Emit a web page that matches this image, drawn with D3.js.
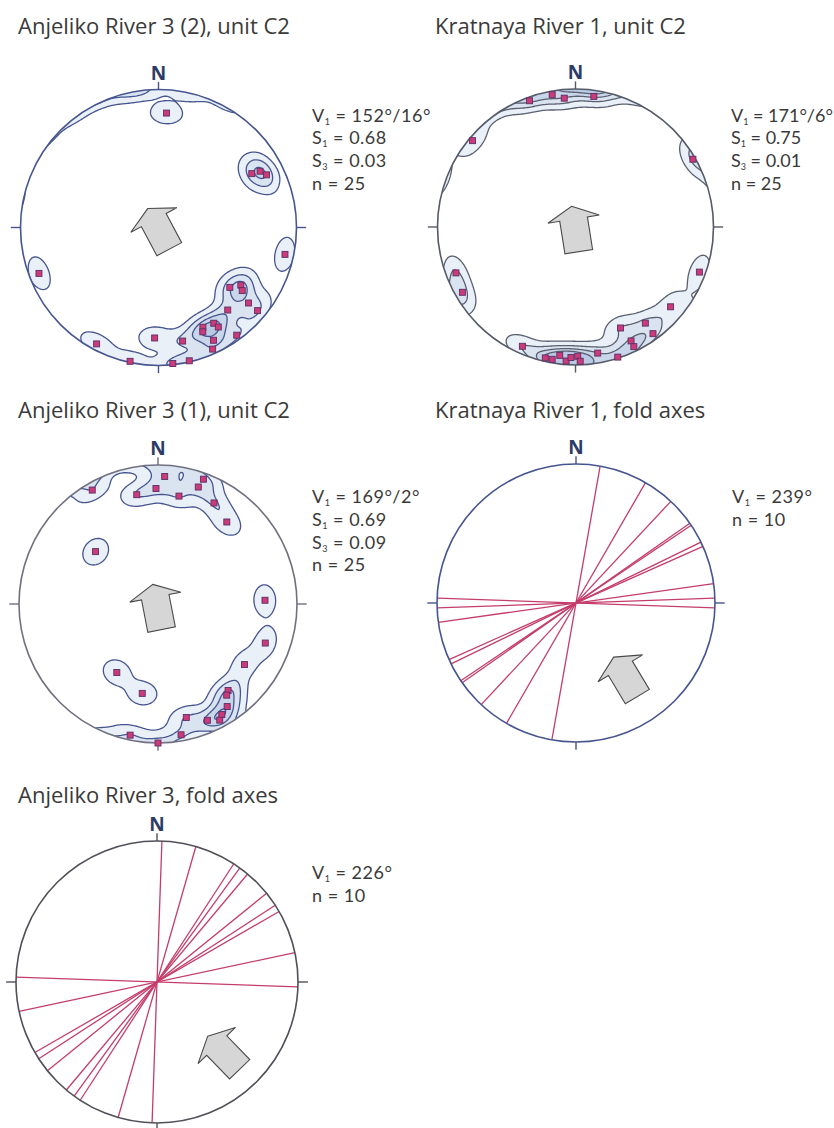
<!DOCTYPE html>
<html>
<head>
<meta charset="utf-8">
<script src="https://cdn.jsdelivr.net/npm/d3@7"></script>
<style>
  body { margin: 0; background: #fff; }
  svg { display: block; }
  text { font-family: "Open Sans", "Noto Sans", sans-serif; fill: #3a3a3a; }
  text.stats { font-family: Lato, "Open Sans", sans-serif; }
</style>
</head>
<body>
<svg id="chart" width="834" height="1128"></svg>
<script>
// ---- Panel titles ----
const titles = [
  "Anjeliko River 3 (2), unit C2",
  "Kratnaya River 1, unit C2",
  "Anjeliko River 3 (1), unit C2",
  "Kratnaya River 1, fold axes",
  "Anjeliko River 3, fold axes"
];

// ---- Clast long axes, [trend°, plunge°], lower hemisphere ----
const anjeliko2Axes = [
  [4, 18], [60, 23], [61, 17], [64, 14], [102, 7], [249, 8],
  [130, 33], [125, 28], [127, 25], [130, 16], [140, 23], [130, 7],
  [150, 21], [149, 17], [156, 22], [157, 19], [154, 10], [144, 4],
  [156, 4], [182, 21], [168, 17], [208, 5], [192, 1], [174, 1], [167, 1]
];
const kratnayaAxes = [
  [340, 3], [350, 3], [355, 7], [8, 5], [310, 3], [60, 2], [110, 5],
  [249, 8], [240, 6], [130, 11], [156, 21], [144, 15], [144, 5],
  [154, 9], [154, 4], [170, 8], [162, 1], [204, 6], [193, 3], [190, 3],
  [187, 7], [184, 3], [179, 7], [178, 3], [182, 6]
];
const anjeliko1Axes = [
  [330, 6], [3, 9], [359, 18], [349, 21], [11, 22], [20, 5], [19, 12],
  [29, 18], [40, 24], [310, 41], [88, 24], [110, 19], [125, 25],
  [211, 42], [190, 35], [141, 21], [143, 19], [146, 12], [150, 9],
  [152, 6], [157, 10], [166, 17], [170, 5], [192, 4], [180, 0]
];

// ---- Fold-axis trends, degrees ----
const kratnayaFoldTrends = [10, 30, 43, 55, 56, 64, 66, 82, 88, 92];
const anjelikoFoldTrends = [2, 16, 33, 36, 40, 51, 57, 60, 78, 92];

// ---- Summary statistics: [symbol, subscript, rest] ----
const anjeliko2Stats = [["V", "1", " = 152°/16°"], ["S", "1", " = 0.68"], ["S", "3", " = 0.03"], ["n", "", " = 25"]];
const kratnayaStats  = [["V", "1", " = 171°/6°"],  ["S", "1", " = 0.75"], ["S", "3", " = 0.01"], ["n", "", " = 25"]];
const anjeliko1Stats = [["V", "1", " = 169°/2°"],  ["S", "1", " = 0.69"], ["S", "3", " = 0.09"], ["n", "", " = 25"]];
const kratnayaFoldStats = [["V", "1", " = 239°"], ["n", "", " = 10"]];
const anjelikoFoldStats = [["V", "1", " = 226°"], ["n", "", " = 10"]];

// ---- Inferred flow direction (azimuth of arrow, degrees) ----
const arrowAzimuths = [332, 351, 349, 329, 316];

// ---- Layout ----
const panels = [
  { title: titles[0], tx: 18,  ty: 34,  cx: 158.5, cy: 227.5, R: 138, axes: anjeliko2Axes, stats: anjeliko2Stats, sx: 312, sy: 121.5, ls: 0.5, arrow: [158, 228], circle: "#46558f", contour: "#46558f" },
  { title: titles[1], tx: 435, ty: 34,  cx: 575.5, cy: 227,   R: 138, axes: kratnayaAxes,  stats: kratnayaStats,  sx: 731, sy: 121.5, ls: 0, arrow: [575, 228], circle: "#555a68", contour: "#5b6070" },
  { title: titles[2], tx: 18,  ty: 418, cx: 158,   cy: 604,   R: 139, axes: anjeliko1Axes, stats: anjeliko1Stats, sx: 312, sy: 503, ls: 0.5, arrow: [157, 606], circle: "#6f7080", contour: "#46558f" },
  { title: titles[3], tx: 435, ty: 418, cx: 576,   cy: 603,   R: 139, folds: kratnayaFoldTrends, stats: kratnayaFoldStats, sx: 732, sy: 503, ls: 0.5, arrow: [625, 676], circle: "#46558f" },
  { title: titles[4], tx: 18,  ty: 803, cx: 157,   cy: 982,   R: 141, folds: anjelikoFoldTrends, stats: anjelikoFoldStats, sx: 312, sy: 879, ls: 0.5, arrow: [223, 1052], circle: "#4f5058" }
];

const svg = d3.select("#chart");
const rad = Math.PI / 180;

// Lambert equal-area (Schmidt) projection of a line, unit radius, y pointing down
function project(trend, plunge) {
  const r = Math.SQRT2 * Math.sin((90 - plunge) * rad / 2);
  return [r * Math.sin(trend * rad), -r * Math.cos(trend * rad)];
}
function toVec(trend, plunge) {
  return [Math.cos(plunge * rad) * Math.cos(trend * rad),
          Math.cos(plunge * rad) * Math.sin(trend * rad),
          Math.sin(plunge * rad)];
}

// Smoothed axial density on a grid covering the net
const N = 220, L = 1.1, K = 100;
const levels = [0.42, 1.2, 2.1, 3.0];
const fills = ["#eaf0f8", "#dae3f0", "#c9d6ea", "#b9c9e3"];
function density(axes) {
  const vecs = axes.map(d => toVec(d[0], d[1]));
  const g = d3.scaleLinear().domain([0, N]).range([-L, L]);
  const values = new Float64Array(N * N);
  for (let j = 0; j < N; j++) {
    const gy = g(j + 0.5);
    for (let i = 0; i < N; i++) {
      const gx = g(i + 0.5);
      const rn = Math.min(Math.hypot(gx, gy) / Math.SQRT2, 1);
      const c = 2 * Math.asin(rn);
      const az = Math.atan2(gx, -gy);
      const v = [Math.sin(c) * Math.cos(az), Math.sin(c) * Math.sin(az), Math.cos(c)];
      let s = 0;
      for (const w of vecs) {
        const dot = Math.abs(v[0] * w[0] + v[1] * w[1] + v[2] * w[2]);
        s += Math.exp(K * (dot - 1));
      }
      values[j * N + i] = s;
    }
  }
  return d3.contours().size([N, N]).thresholds(levels)(values);
}

panels.forEach((p, idx) => {
  const x = d3.scaleLinear().domain([-1, 1]).range([p.cx - p.R, p.cx + p.R]);
  const y = d3.scaleLinear().domain([-1, 1]).range([p.cy - p.R, p.cy + p.R]);
  const gp = d3.scaleLinear().domain([0, N]).range([-L, L]);
  const g = svg.append("g");

  // title
  g.append("text").attr("x", p.tx).attr("y", p.ty)
    .attr("font-size", 22).text(p.title);

  const clipId = "clip" + idx;
  svg.append("clipPath").attr("id", clipId)
    .append("circle").attr("cx", p.cx).attr("cy", p.cy).attr("r", p.R);

  if (p.axes) {
    const bands = density(p.axes);
    const path = d3.geoPath(d3.geoTransform({
      point(px, py) { this.stream.point(x(gp(px)), y(gp(py))); }
    }));
    const cg = g.append("g").attr("clip-path", `url(#${clipId})`);
    cg.selectAll("path").data(bands).join("path")
      .attr("d", path)
      .attr("fill", (d, i) => fills[i])
      .attr("stroke", p.contour)
      .attr("stroke-width", 1.3)
      .attr("stroke-linejoin", "round");
  }

  if (p.folds) {
    g.append("g").selectAll("line").data(p.folds).join("line")
      .attr("x1", d => x(project(d, 0)[0]))
      .attr("y1", d => y(project(d, 0)[1]))
      .attr("x2", d => x(project(d + 180, 0)[0]))
      .attr("y2", d => y(project(d + 180, 0)[1]))
      .attr("stroke", "#c43d6b")
      .attr("stroke-width", 1.3);
  }

  // primitive circle
  g.append("circle").attr("cx", p.cx).attr("cy", p.cy).attr("r", p.R)
    .attr("fill", "none").attr("stroke", p.circle).attr("stroke-width", 1.6);

  // cardinal ticks
  const tk = [[0, -1, 0, -1.055], [1, 0, 1.07, 0], [0, 1, 0, 1.055], [-1, 0, -1.07, 0]];
  g.selectAll("line.tick").data(tk).join("line").attr("class", "tick")
    .attr("x1", d => x(d[0])).attr("y1", d => y(d[1]))
    .attr("x2", d => x(d[2])).attr("y2", d => y(d[3]))
    .attr("stroke", p.circle).attr("stroke-width", 1.4);

  g.append("text").attr("x", p.cx).attr("y", p.cy - p.R - 10)
    .attr("text-anchor", "middle").attr("font-weight", "bold")
    .attr("font-size", 19).style("fill", "#2d3c66").text("N");

  // data points
  if (p.axes) {
    g.append("g").selectAll("rect").data(p.axes).join("rect")
      .attr("x", d => x(project(d[0], d[1])[0]) - 3)
      .attr("y", d => y(project(d[0], d[1])[1]) - 3)
      .attr("width", 6).attr("height", 6)
      .attr("fill", "#cc3a78").attr("stroke", "#5a3068").attr("stroke-width", 0.9);
  }

  // arrow
  const shape = [[0, -22], [26, -9], [14, -9], [14, 24], [-14, 24], [-14, -9], [-26, -9]];
  g.append("path")
    .attr("d", d3.line()(shape) + "Z")
    .attr("transform", `translate(${p.arrow[0]},${p.arrow[1]}) rotate(${arrowAzimuths[idx]})`)
    .attr("fill", "#d6d6d6").attr("stroke", "#4a4a4a").attr("stroke-width", 1.1)
    .attr("stroke-linejoin", "miter");

  // statistics block
  const st = g.append("text").attr("class", "stats").attr("font-size", 18)
    .style("letter-spacing", p.ls + "px");
  p.stats.forEach((row, i) => {
    const t = st.append("tspan").attr("x", p.sx).attr("y", p.sy + i * 22.8);
    t.append("tspan").text(row[0]);
    if (row[1]) {
      t.append("tspan").attr("font-size", 9).attr("dy", 3).text(row[1]);
      t.append("tspan").attr("dy", -3).text(row[2]);
    } else {
      t.append("tspan").text(row[2]);
    }
  });
});
</script>
</body>
</html>
